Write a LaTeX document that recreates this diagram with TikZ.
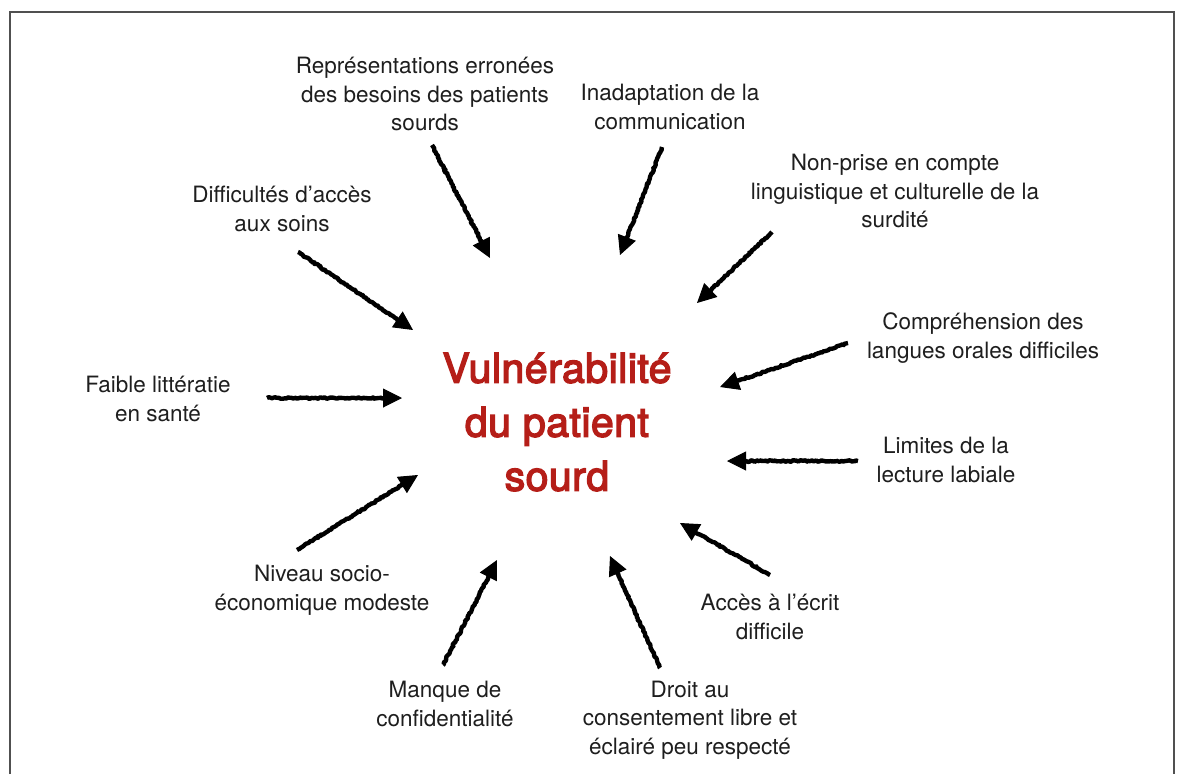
\documentclass[tikz,border=0pt]{standalone}
\usepackage{fontspec}
\setmainfont{TeX Gyre Heros}
\newfontfamily\headfont[FakeBold=3.4,LetterSpace=1.2]{TeX Gyre Heros}
\usetikzlibrary{arrows.meta,decorations.pathmorphing,calc}
\definecolor{titlered}{RGB}{181,30,24}
\definecolor{labelgray}{RGB}{30,30,30}
\definecolor{framegray}{RGB}{80,80,80}
\begin{document}
\begin{tikzpicture}[x=1pt,y=-1pt,
  label/.style={align=center,text=labelgray,font=\fontsize{22.5}{28.5}\selectfont,inner sep=0pt},
  title/.style={align=center,text=titlered,font=\headfont\fontsize{41}{54}\selectfont,inner sep=0pt},
  shaft/.style={line width=4.4pt,black,line join=round,decorate,
    decoration={random steps,segment length=1.6pt,amplitude=0.8pt}},
  head/.style={line width=1pt,black,-{Triangle[length=19pt,width=19pt]}}]
\useasboundingbox (0,0) rectangle (1178,774);
\fill[white] (0,0) rectangle (1178,774);
% open frame
\draw[framegray,line width=1.5pt] (10,774) -- (10,12) -- (1174,12) -- (1174,774);

% central statement
\node[title] (c) at (557,422) {Vulnérabilité\\du patient\\sourd};

% factors around it
\node[label] (t1) at (425,94) {Représentations erronées\\des besoins des patients\\sourds};
\node[label] (t2) at (670,107) {Inadaptation de la\\communication};
\node[label] (t3) at (895,191) {Non-prise en compte\\linguistique et culturelle de la\\surdité};
\node[label] (t4) at (282,209) {Difficultés d’accès\\aux soins};
\node[label] (t5) at (983,338) {Compréhension des\\langues orales difficiles};
\node[label] (t6) at (158,399) {Faible littératie\\en santé};
\node[label] (t7) at (946,460) {Limites de la\\lecture labiale};
\node[label] (t8) at (322,590) {Niveau socio-\\économique modeste};
\node[label] (t9) at (770,617) {Accès à l’écrit\\difficile};
\node[label] (t10) at (445,704) {Manque de\\confidentialité};
\node[label] (t11) at (690,720) {Droit au\\consentement libre et\\éclairé peu respecté};

% arrow ends
\coordinate (s1) at (432,145);  \coordinate (e1) at (490,258);
\coordinate (s2) at (662,147);  \coordinate (e2) at (620,255);
\coordinate (s3) at (772,232);  \coordinate (e3) at (697,303);
\coordinate (s4) at (298,252);  \coordinate (e4) at (413,330);
\coordinate (s5) at (848,343);  \coordinate (e5) at (720,387);
\coordinate (s6) at (267,398);  \coordinate (e6) at (402,398);
\coordinate (s7) at (858,461);  \coordinate (e7) at (727,461);
\coordinate (s8) at (297,550);  \coordinate (e8) at (418,475);
\coordinate (s9) at (770,575);  \coordinate (e9) at (680,523);
\coordinate (s10) at (443,665); \coordinate (e10) at (497,560);
\coordinate (s11) at (660,668); \coordinate (e11) at (610,556);

% hand-drawn looking arrows: rough shaft, then a solid head
\foreach \i in {1,...,11}{
  \draw[shaft] (s\i) -- ($(e\i)!14pt!(s\i)$);
  \draw[head] ($(e\i)!22pt!(s\i)$) -- (e\i);
}
\end{tikzpicture}
\end{document}
